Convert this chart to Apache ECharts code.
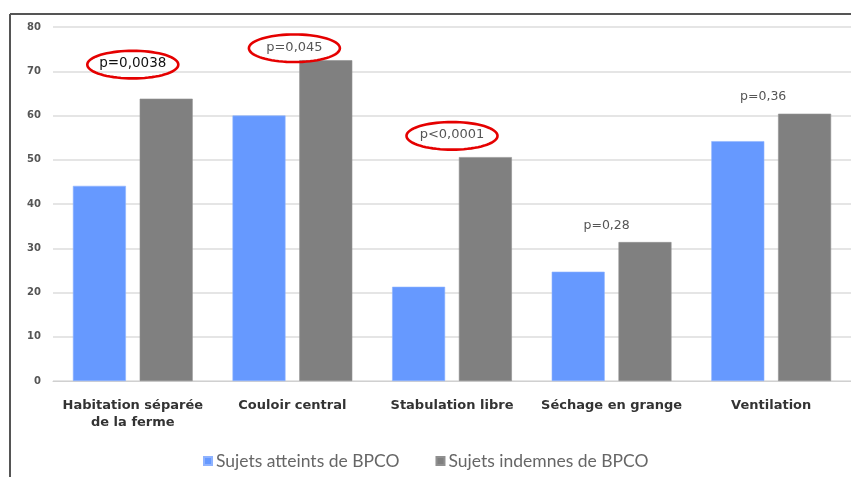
<!DOCTYPE html>
<html>
<head>
<meta charset="utf-8">
<script src="https://cdn.jsdelivr.net/npm/echarts@6/dist/echarts.min.js"></script>
<style>
html,body{margin:0;padding:0;background:#fff;}
#c{width:851px;height:477px;}
</style>
</head>
<body>
<div id="c"></div>
<script>
const categories = ["Habitation séparée\nde la ferme", "Couloir central", "Stabulation libre", "Séchage en grange", "Ventilation"];
const atteints = [44.1, 60.0, 21.3, 24.7, 54.2];
const indemnes = [63.8, 72.5, 50.6, 31.4, 60.4];
const pLabels = ["p=0,0038", "p=0,045", "p<0,0001", "p=0,28", "p=0,36"];
const pCircled = [true, true, true, false, false];
const yTicks = [0, 10, 20, 30, 40, 50, 60, 70, 80];

// annotation anchor placement (layout, not data)
const annAnchor = [
  {y: 71.5, dx: 0,  dy: 0, fill: '#111', size: 13.5},
  {y: 75.2, dx: 2,  dy: 0, fill: '#555', size: 13},
  {y: 55.4, dx: 0,  dy: 0, fill: '#555', size: 13},
  {y: 34.8, dx: -5, dy: 0, fill: '#555', size: 12.5},
  {y: 64.0, dx: -8, dy: 0, fill: '#555', size: 12.5}
];

const chart = echarts.init(document.getElementById('c'), null, {renderer: 'canvas'});

const option = {
  animation: false,
  backgroundColor: '#fff',
  grid: {left: 53, right: -4, top: 27, bottom: 96},
  legend: {
    data: ['Sujets atteints de BPCO', 'Sujets indemnes de BPCO'],
    left: 198,
    top: 447,
    itemWidth: 8,
    itemHeight: 8,
    itemGap: 36,
    icon: 'rect',
    textStyle: {fontFamily: 'Lato', fontSize: 17.5, color: '#666', padding: [0, 0, 0, -1]}
  },
  xAxis: {
    type: 'category',
    data: categories,
    axisLine: {show: true, lineStyle: {color: '#d0d0d0', width: 1}},
    axisTick: {show: false},
    axisLabel: {
      interval: 0,
      margin: 16,
      fontFamily: 'DejaVu Sans',
      fontWeight: 'bold',
      fontSize: 13,
      lineHeight: 17,
      color: '#333'
    }
  },
  yAxis: {
    type: 'value',
    min: 0,
    max: 80,
    interval: 10,
    axisLine: {show: false},
    axisTick: {show: false},
    axisLabel: {
      margin: 12,
      fontFamily: 'DejaVu Sans',
      fontWeight: 'bold',
      fontSize: 10,
      color: '#555',
      formatter: function (v) { return yTicks.indexOf(v) >= 0 ? String(v) : ''; }
    },
    splitLine: {lineStyle: {color: '#dcdcdc', width: 1.5}}
  },
  series: [
    {
      name: 'Sujets atteints de BPCO',
      type: 'bar',
      data: atteints,
      barWidth: 53,
      barGap: '26%',
      itemStyle: {color: '#6699ff', borderColor: '#8fb3ff', borderWidth: 0.6}
    },
    {
      name: 'Sujets indemnes de BPCO',
      type: 'bar',
      data: indemnes,
      barWidth: 53,
      itemStyle: {color: '#808080', borderColor: '#909090', borderWidth: 0.6}
    },
    {
      name: 'pvalues',
      type: 'custom',
      silent: true,
      z: 10,
      data: pLabels.map(function (t, i) { return [i, annAnchor[i].y]; }),
      renderItem: function (params, api) {
        const i = params.dataIndex;
        const a = annAnchor[i];
        const pt = api.coord([api.value(0), api.value(1)]);
        const cx = pt[0] + a.dx, cy = pt[1] + a.dy;
        const children = [];
        if (pCircled[i]) {
          const rx = 45.5, ry = 13.8, pts = [];
          for (let k = 0; k < 72; k++) {
            const t = k / 72 * Math.PI * 2;
            pts.push([cx + rx * Math.cos(t), cy + ry * Math.sin(t)]);
          }
          children.push({
            type: 'polygon',
            shape: {points: pts},
            style: {fill: 'none', stroke: '#e50000', lineWidth: 2.6}
          });
        }
        children.push({
          type: 'text',
          style: {
            text: pLabels[i],
            x: cx, y: cy - 1,
            align: 'center',
            verticalAlign: 'middle',
            fontFamily: 'DejaVu Sans',
            fontSize: a.size,
            fill: a.fill
          }
        });
        return {type: 'group', children: children};
      }
    }
  ],
  graphic: [
    {type: 'line', shape: {x1: 10, y1: 14, x2: 851, y2: 14}, style: {stroke: '#555', lineWidth: 2}},
    {type: 'line', shape: {x1: 10, y1: 14, x2: 10, y2: 477}, style: {stroke: '#555', lineWidth: 2}}
  ]
};

chart.setOption(option);
</script>
</body>
</html>
